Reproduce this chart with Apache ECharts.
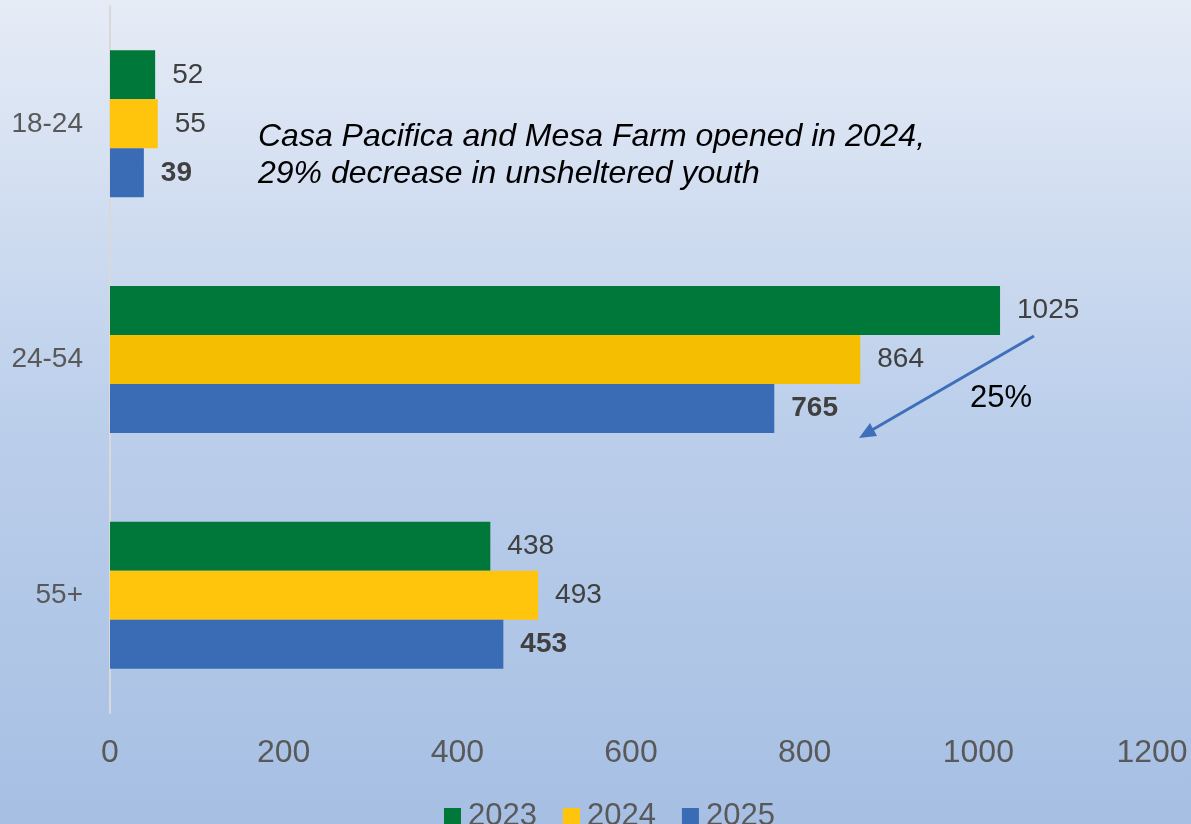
<!DOCTYPE html>
<html>
<head>
<meta charset="utf-8">
<script src="https://cdn.jsdelivr.net/npm/echarts@6/dist/echarts.min.js"></script>
<style>
  html, body { margin: 0; padding: 0; }
  #chart { width: 1191px; height: 824px; }
</style>
</head>
<body>
<div id="chart"></div>
<script>
const categories = ["18-24", "24-54", "55+"];
const years = ["2023", "2024", "2025"];
const values2023 = [52, 1025, 438];
const values2024 = [55, 864, 493];
const values2025 = [39, 765, 453];

const chart = echarts.init(document.getElementById("chart"));

const labelStyle = {
  show: true,
  position: "right",
  distance: 17,
  fontFamily: "Liberation Sans",
  fontSize: 28,
  color: "#404040",
};

const option = {
  backgroundColor: new echarts.graphic.LinearGradient(0, 0, 0, 1, [
    { offset: 0, color: "#e6ecf6" },
    { offset: 0.5, color: "#bccfeb" },
    { offset: 1, color: "#a6bfe3" },
  ]),
  textStyle: { fontFamily: "Liberation Sans" },
  grid: { left: 110, right: 39, top: 6, bottom: 111 },
  legend: {
    data: years,
    left: 439,
    top: 796,
    itemWidth: 17,
    itemHeight: 17,
    itemGap: 26,
    icon: "rect",
    textStyle: { fontSize: 31, color: "#595959", padding: [0, 0, 0, 2] },
  },
  xAxis: {
    type: "value",
    min: 0,
    max: 1200,
    interval: 200,
    axisLine: { show: false },
    axisTick: { show: false },
    splitLine: { show: false },
    axisLabel: {
      fontSize: 32,
      color: "#595959",
      margin: 24,
      formatter: (v) => String(v),
    },
  },
  yAxis: {
    type: "category",
    data: categories,
    inverse: true,
    axisLine: { show: true, lineStyle: { color: "#d9d9d9", width: 2 } },
    axisTick: { show: false },
    axisLabel: { fontSize: 28, color: "#595959", margin: 27 },
  },
  series: [
    {
      name: "2023",
      type: "bar",
      data: values2023,
      barWidth: 49,
      barGap: 0,
      itemStyle: { color: "#00783a" },
      label: labelStyle,
    },
    {
      name: "2024",
      type: "bar",
      data: values2024.map((v, i) => ({
        value: v,
        itemStyle: { color: i === 1 ? "#f6be00" : "#ffc50d" },
      })),
      barWidth: 49,
      barGap: 0,
      itemStyle: { color: "#ffc50d" },
      label: labelStyle,
    },
    {
      name: "2025",
      type: "bar",
      data: values2025,
      barWidth: 49,
      barGap: 0,
      itemStyle: { color: "#3a6bb5" },
      label: Object.assign({}, labelStyle, { fontWeight: "bold" }),
    },
  ],
  graphic: [
    {
      type: "text",
      left: 258,
      top: 119,
      style: {
        text: "Casa Pacifica and Mesa Farm opened in 2024,\n29% decrease in unsheltered youth",
        font: "italic 32px 'Liberation Sans'",
        fill: "#000",
        lineHeight: 37,
      },
    },
    {
      type: "text",
      left: 970,
      top: 383,
      style: { text: "25%", font: "31px 'Liberation Sans'", fill: "#000" },
    },
    {
      type: "line",
      shape: { x1: 1034, y1: 336, x2: 872, y2: 430 },
      style: { stroke: "#3f6fba", lineWidth: 3 },
    },
    {
      type: "polygon",
      shape: { points: [[859, 438], [877, 436], [870, 423]] },
      style: { fill: "#3f6fba" },
    },
  ],
};

chart.setOption(option);
window.addEventListener("resize", function () {
  chart.resize();
});
</script>
</body>
</html>
